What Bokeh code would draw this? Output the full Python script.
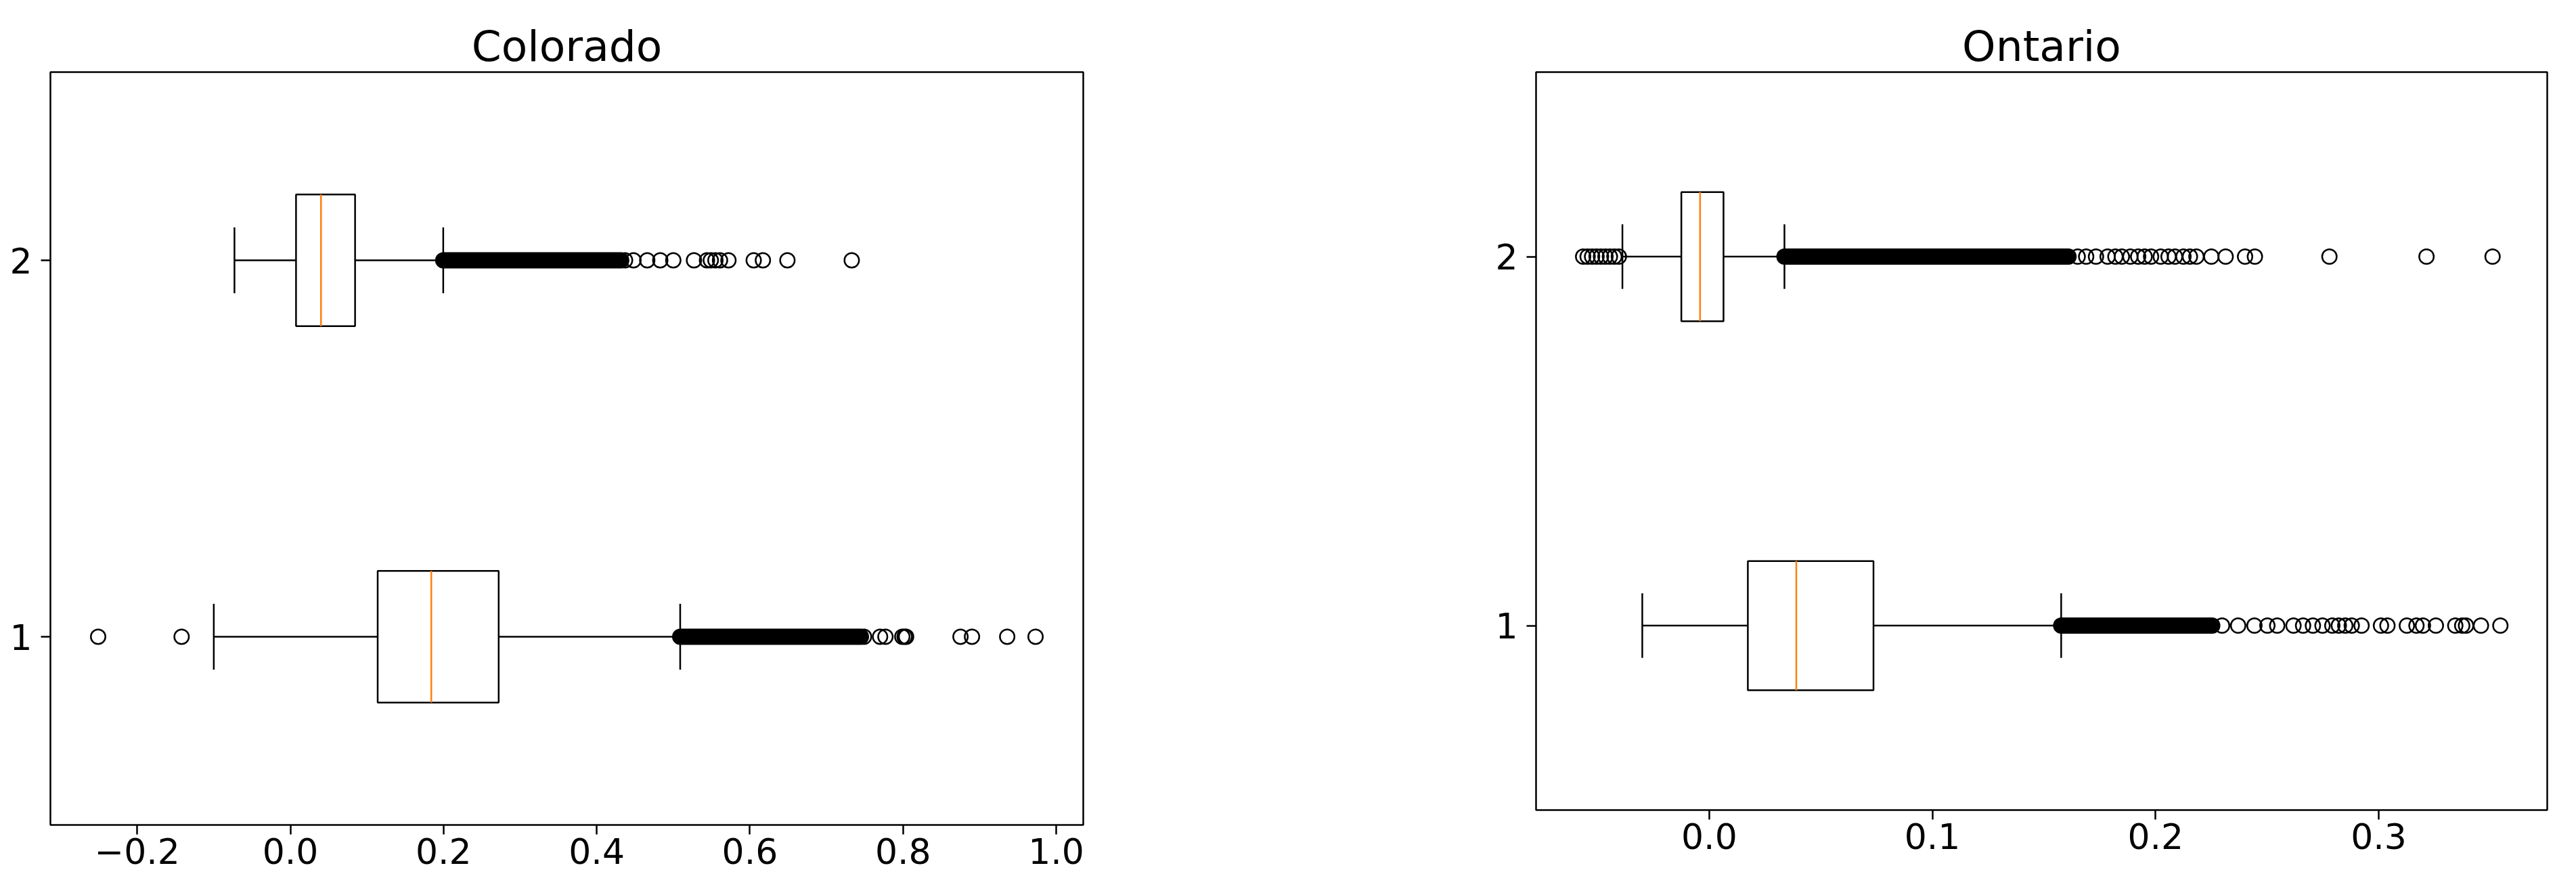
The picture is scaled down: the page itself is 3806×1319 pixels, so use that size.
from bokeh.plotting import figure
from bokeh.layouts import row
from bokeh.models import FixedTicker, Range1d
from bokeh.embed import file_html
from bokeh.resources import INLINE

# ---------------- data ----------------
positions = [1, 2]
y_ticks = [1, 2]
y_labels = ["1", "2"]

# Colorado
co_whisker_lo = [-0.100, -0.073]
co_q1 = [0.114, 0.0074]
co_median = [0.184, 0.040]
co_q3 = [0.272, 0.0845]
co_whisker_hi = [0.509, 0.1996]
co_dense_lo = [0.509, 0.1996]      # solid band of overlapping fliers
co_dense_hi = [0.745, 0.432]
co_fliers_1 = [-0.251, -0.142, 0.749, 0.770, 0.777, 0.799, 0.802, 0.804,
               0.875, 0.890, 0.936, 0.973]
co_fliers_2 = [0.437, 0.448, 0.466, 0.483, 0.500, 0.527, 0.544, 0.549,
               0.555, 0.561, 0.572, 0.605, 0.617, 0.649, 0.733]
co_xticks = [-0.2, 0.0, 0.2, 0.4, 0.6, 0.8, 1.0]
co_xlabels = ["\u22120.2", "0.0", "0.2", "0.4", "0.6", "0.8", "1.0"]

# Ontario
on_whisker_lo = [-0.030, -0.0389]
on_q1 = [0.0173, -0.0125]
on_median = [0.0390, -0.0041]
on_q3 = [0.0736, 0.0064]
on_whisker_hi = [0.1577, 0.0337]
on_dense_lo = [0.1577, 0.0337]
on_dense_hi = [0.2254, 0.1610]
on_fliers_1 = [0.2298, 0.2370, 0.2443, 0.2501, 0.2545, 0.2618, 0.2661,
               0.2705, 0.2748, 0.2792, 0.2821, 0.2850, 0.2879, 0.2923,
               0.3010, 0.3039, 0.3126, 0.3169, 0.3198, 0.3256, 0.3343,
               0.3374, 0.3391, 0.3458, 0.3545]
on_fliers_2 = [-0.0565, -0.0545, -0.0525, -0.0505, -0.0485, -0.0465,
               -0.0445, -0.0425, -0.0405,
               0.1651, 0.1689, 0.1733, 0.1785, 0.1820, 0.1849, 0.1887,
               0.1922, 0.1951, 0.1980, 0.2023, 0.2058, 0.2087, 0.2125,
               0.2154, 0.2183, 0.2250, 0.2314, 0.2401, 0.2445, 0.2779,
               0.3214, 0.3510]
on_xticks = [0.0, 0.1, 0.2, 0.3]
on_xlabels = ["0.0", "0.1", "0.2", "0.3"]

FONT = "DejaVu Sans"
BOX_W = 0.35
LW = 2.5


def panel(title, wlo, q1, med, q3, whi, dlo, dhi, fl1, fl2, xr, xt, xl,
          fw, fh, bl, br, bt, bb):
    p = figure(frame_width=fw, frame_height=fh,
               x_range=Range1d(*xr), y_range=Range1d(0.5, 2.5),
               output_backend="svg", toolbar_location=None,
               min_border_left=bl, min_border_right=br,
               min_border_top=bt, min_border_bottom=bb)
    p.background_fill_color = "white"
    p.border_fill_color = "white"
    p.outline_line_color = "black"
    p.outline_line_width = LW
    p.xgrid.visible = False
    p.ygrid.visible = False

    p.title.text = title
    p.title.align = "center"
    p.title.text_font = FONT
    p.title.text_font_size = "63px"
    p.title.text_font_style = "normal"
    p.title.text_color = "black"
    p.title.standoff = 4

    for ax in (p.xaxis[0], p.yaxis[0]):
        ax.axis_line_color = None
        ax.major_tick_line_color = "black"
        ax.major_tick_line_width = LW
        ax.major_tick_out = 14
        ax.major_tick_in = 0
        ax.minor_tick_line_color = None
        ax.major_label_text_font = FONT
        ax.major_label_text_font_size = "52px"
        ax.major_label_text_color = "black"
    p.xaxis[0].ticker = FixedTicker(ticks=xt)
    p.xaxis[0].major_label_overrides = {t: s for t, s in zip(xt, xl)}
    p.xaxis[0].major_label_standoff = 5
    p.yaxis[0].ticker = FixedTicker(ticks=y_ticks)
    p.yaxis[0].major_label_overrides = {t: s for t, s in zip(y_ticks, y_labels)}
    p.yaxis[0].major_label_standoff = 13

    # whiskers
    p.segment(x0=wlo, y0=positions, x1=q1, y1=positions, line_color="black", line_width=LW)
    p.segment(x0=q3, y0=positions, x1=whi, y1=positions, line_color="black", line_width=LW)
    # caps
    lo_y = [y - BOX_W / 4 for y in positions]
    hi_y = [y + BOX_W / 4 for y in positions]
    p.segment(x0=wlo, y0=lo_y, x1=wlo, y1=hi_y, line_color="black", line_width=LW)
    p.segment(x0=whi, y0=lo_y, x1=whi, y1=hi_y, line_color="black", line_width=LW)
    # boxes
    p.hbar(y=positions, left=q1, right=q3, height=BOX_W, fill_color="white",
           line_color="black", line_width=LW)
    # medians
    p.segment(x0=med, y0=[y - BOX_W / 2 for y in positions], x1=med,
              y1=[y + BOX_W / 2 for y in positions], line_color="#ff7f0e", line_width=LW)
    # dense flier bands
    p.segment(x0=dlo, y0=positions, x1=dhi, y1=positions, line_color="black",
              line_width=24, line_cap="round")
    # individual fliers
    fx = fl1 + fl2
    fy = [positions[0]] * len(fl1) + [positions[1]] * len(fl2)
    p.scatter(x=fx, y=fy, marker="circle", size=21.5, fill_color=None,
              line_color="black", line_width=LW)
    return p


p1 = panel("Colorado", co_whisker_lo, co_q1, co_median, co_q3, co_whisker_hi,
           co_dense_lo, co_dense_hi, co_fliers_1, co_fliers_2,
           (-0.3133, 1.0353), co_xticks, co_xlabels,
           1526, 1112, 74, 292, 93, 98)
p2 = panel("Ontario", on_whisker_lo, on_q1, on_median, on_q3, on_whisker_hi,
           on_dense_lo, on_dense_hi, on_fliers_1, on_fliers_2,
           (-0.0776, 0.3755), on_xticks, on_xlabels,
           1494, 1090, 377, 27, 106, 107)

layout = row(p1, p2, spacing=0)
open("out.html", "w").write(file_html(layout, INLINE))
